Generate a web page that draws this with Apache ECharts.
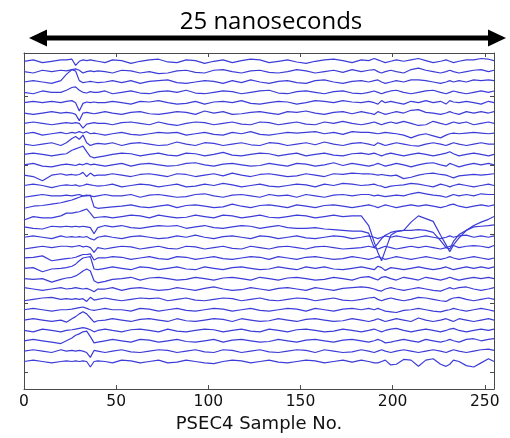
<!DOCTYPE html>
<html><head><meta charset="utf-8">
<script src="https://cdn.jsdelivr.net/npm/echarts@6/dist/echarts.min.js"></script>
<style>html,body{margin:0;padding:0;background:#fff}#chart{width:510px;height:438px}</style>
</head><body><div id="chart"></div>
<script>
// PSEC4 sample numbers at which each trace value was read
const sampleNo = [0,5,10,15,20, 23,26,28,30,32,34,36,38,40, 44,48,
  53,58,63,68,73,78,83,88,93,98, 103,108,113,118,123,128,133,138,143,148, 153,158,163,168,173,178,183,
  187,190,192,194,196,199,202,206,210,214, 218,222,226,229,231,233,236,240,244,248, 252,255];

// Trace values (relative to each trace's own baseline), top trace first
const trace01 = [0,2,-2,0,2, 2,3,-6,0,2,1,2,1,0, -2,2, 1,-3,0,2,3,-1,-2,2,1,-3, 0,2,-2,1,3,2,-2,0,2,-1, -3,0,2,3,1,-2,2, 1,4,2,0,-2,0,2,0,2,4, 1,-2,0,2,0,-2,0,2,2,4, 3,1];
const trace02 = [0,-2,2,0,2, 1,3,4,2,-2,0,1,0,1, 0,-2, 2,1,-2,0,-3,-2,1,2,-1,-2, 2,3,0,-2,1,2,-1,-2,0,3, 1,-2,0,2,-1,3,0, 2,3,0,-2,0,2,0,-2,3,5, 2,0,-2,0,2,0,-2,0,2,3, 0,2];
const trace03 = [0,2,0,-2,2, 11,18,16,2,-1,0,1,0,-1, 0,2, -1,2,-2,1,2,3,-1,-2,0,2, 1,-2,2,-1,3,0,-2,1,2,-1, -2,2,3,0,-2,1,2, 0,2,3,0,-2,0,2,0,3,3, 2,0,-2,0,2,0,2,0,3,2, 3,2];
const trace04 = [0,-2,2,0,0, 3,7,8,3,0,-1,1,0,0, 2,-2, 0,2,-1,-2,1,2,0,3,-1,-2, 0,2,1,-2,0,2,3,-1,-2,1, 2,0,-2,1,2,-1,-2, 0,2,0,-2,0,2,3,0,-2,0, 2,3,0,-2,0,2,0,-2,0,2, 0,2];
const trace05 = [0,2,0,2,0, 2,3,0,-12,-1,1,0,1,0, 0,2, 0,-2,2,1,3,0,-2,-1,2,-2, 1,2,0,3,-1,-2,0,2,1,-2, 0,3,2,0,3,1,0, 2,0,-2,3,0,2,0,-2,2,0, 3,0,2,-2,3,1,0,2,0,-2, 2,0];
const trace06 = [0,-2,0,2,0, 1,0,-2,-11,0,1,0,-1,0, 2,0, -2,1,2,-1,-2,0,2,1,-2,3, 0,2,-2,-1,1,2,0,-2,2,1, 3,0,-2,1,2,-1,2, 0,-2,2,0,-2,0,2,0,4,5, 1,0,-2,0,2,0,-2,2,0,2, 0,2];
const trace07 = [0,2,0,-2,0, 1,0,1,0,-7,-1,0,1,0, 0,-2, 1,2,0,-2,2,-1,-3,0,2,1, -2,0,2,-1,-2,2,1,-2,0,2, -1,-2,2,0,3,0,-2, 0,2,0,-2,0,2,0,3,0,-3, -2,3,0,-2,0,2,0,2,-2,0, 2,0];
const trace08 = [0,2,-2,0,2, 0,2,1,3,1,3,0,1,0, -2,0, 2,-1,-2,0,2,1,2,-2,0,2, -1,-2,2,0,3,-1,-2,0,2,1, 2,3,0,2,-1,3,2, 2,1,0,1,2,1,0,-2,-6,-2, 0,-3,-6,-2,0,1,0,1,2,1, 0,1];
const trace09 = [0,-2,0,2,-2, 2,8,11,7,13,2,-2,0,1, 0,2, -2,1,2,0,-2,-1,3,0,-2,2, 1,-2,0,2,-1,-2,2,1,-2,0, 2,-1,3,0,-2,1,2, 0,-2,2,0,-2,0,2,0,-2,-3, 0,2,0,-2,0,2,0,-2,0,2, 0,0];
const trace10 = [0,2,0,-2,0, 1,6,8,10,12,4,-3,-5,-4, -2,0, 2,1,-2,0,2,-1,-2,2,1,-2, 0,3,-1,-2,0,2,1,-2,0,2, -2,0,2,-1,-2,1,2, 0,2,0,-2,0,2,0,-2,0,2, 0,-2,0,2,4,1,-2,0,2,0, -2,0];
const trace11 = [0,2,-2,-3,0, 1,0,-1,1,0,2,0,1,0, -2,0, 2,-2,1,2,0,-2,-1,2,3,0, -2,1,2,0,-2,-1,2,0,-2,2, 1,-2,0,3,-1,2,0, -2,0,2,0,-2,0,2,0,-3,0, 2,3,0,-2,2,0,-3,0,2,0, 2,0];
const trace12 = [0,-2,-8,0,2, 0,1,0,1,4,-2,3,-1,0, 0,2, 0,-2,1,2,0,-2,2,1,-2,0, 2,-1,3,0,-2,1,2,0,-2,-1, 2,0,-2,2,1,3,2, 2,1,0,1,0,-1,0,-5,-3,0, 2,3,1,0,-2,-4,-1,0,1,0, 1,2];
const trace13 = [0,2,0,-3,0, 1,0,1,-1,0,2,1,0,-1, 0,2, -2,0,2,1,-2,0,2,-2,-1,2, 0,3,1,-2,0,2,-1,-2,0,2, 1,-2,2,0,3,2,0, 1,2,0,-1,-3,-1,0,1,3,2, 0,-2,2,0,-2,0,2,0,-2,0, 2,0];
const trace14 = [-2,0,2,0,0, 1,0,1,2,0,1,0,-1,0, 2,0, 0,2,-2,1,2,0,-2,-1,2,3, 0,-2,1,2,0,-2,2,0,1,-2, 2,0,-2,1,2,0,2, 2,0,1,0,-1,0,1,0,3,5, 3,1,0,-2,0,2,0,2,0,3, 2,2];
const trace15 = [-3,0,1,3,5, 7,9,11,13,15,15,16,-1,-3, -2,-1, 0,2,-1,-2,0,2,-2,1,2,0, -2,-1,3,0,-2,1,2,0,-2,2, 0,-2,1,2,0,-2,0, 2,0,-2,0,2,0,-2,0,2,0, 2,0,-2,0,2,3,0,-2,0,2, 0,2];
const trace16 = [-5,0,-2,-2,1, 5,5,6,7,9,11,5,-2,-1, 0,-2, 0,2,1,-2,2,0,-2,-1,2,0, -2,2,1,-2,0,2,-1,-2,0,2, 1,-2,0,2,0,1,1, -13,-37,-52,-64,-49,-27,-22,-20,-8,1, -3,-7,-27,-41,-51,-41,-31,-20,-13,-8, -4,0];
const trace17 = [0,-2,-3,1,0, 1,0,1,0,1,0,-1,-10,-1, 2,0, 2,-1,-2,0,2,1,2,-2,0,2, -1,-2,0,2,1,-2,0,2,-1,-2, -2,-1,-3,-4,-5,-6,-6, -9,-30,-24,-17,-12,-8,-6,-5,-5,-4, -5,-8,-20,-30,-32,-21,-11,-5,0,1, 2,3];
const trace18 = [0,2,0,-2,2, 0,1,0,1,0,1,-2,-4,0, 2,0, -2,1,2,0,-2,-1,2,0,3,0, -2,1,2,0,-2,2,1,-2,0,2, -1,-2,0,2,1,-2,0, 2,0,-2,0,2,0,2,0,-2,0, 2,0,-2,0,2,0,2,3,0,2, 0,2];
const trace19 = [-2,0,2,0,2, 2,1,2,3,1,2,0,-7,0, -2,0, 2,1,-2,0,2,-1,-2,2,1,-2, 0,2,-1,-2,2,0,-2,1,2,0, -2,1,2,0,-2,-1,0, 2,0,-2,0,2,0,-2,0,2,0, 2,0,-2,0,2,3,0,2,3,2, 0,3];
const trace20 = [0,1,3,-4,-2, -1,0,1,3,5,5,6,-3,0, 0,2, 1,-2,0,2,-1,-2,2,1,-2,0, 2,-1,-2,0,2,1,-2,2,0,-2, 1,2,0,-2,-1,2,0, -2,0,2,0,-2,0,2,0,-2,0, 2,0,-2,0,2,0,-2,0,2,0, -2,0];
const trace21 = [0,1,-5,-1,0, 1,3,6,11,15,16,17,-1,-2, 0,2, 0,-2,2,1,-2,0,2,-1,-2,2, 0,-2,1,2,0,-2,-1,2,0,-2, 2,0,2,-1,-2,0,2, 0,-2,3,1,-3,1,0,-2,0,2, 0,-2,0,2,0,-2,0,2,0,2, 0,2];
const trace22 = [0,-1,0,-5,-1, 1,2,4,7,11,14,11,-3,-6, -4,-1, 0,2,-2,1,2,0,-2,-1,2,0, -2,1,2,0,-2,2,0,-2,1,2, 0,-2,-1,2,0,-2,2, 3,0,-2,2,3,0,-2,2,0,-2, 2,0,-2,0,2,0,-2,0,2,0, 2,0];
const trace23 = [2,0,-2,0,2, 0,1,2,1,0,1,-1,-4,0, 0,2, -2,1,2,0,-2,-1,2,0,-2,1, 3,0,-2,-1,2,0,-2,1,2,0, -2,2,0,-2,1,2,3, 2,0,-2,-3,0,2,0,-2,0,2, 0,-2,-3,0,2,0,2,3,0,-2, 0,2];
const trace24 = [-2,0,2,3,0, 1,0,1,0,1,-3,3,-1,0, 2,0, -2,0,2,1,2,-2,0,2,-1,-2, 0,2,1,-2,0,2,-1,-2,0,2, 1,-2,0,2,-1,-2,0, 2,3,0,-2,0,2,0,-2,0,3, 2,0,-2,-3,0,2,3,0,-2,0, 2,0];
const trace25 = [0,2,0,-2,0, 0,1,2,3,4,2,0,-1,0, 2,0, 0,-2,2,1,-2,0,2,-1,-2,0, 2,1,-2,0,2,-1,-2,0,2,1, -2,2,0,-2,1,2,0, 2,0,2,0,-2,-3,-4,-1,0,2, 0,-2,-3,-1,0,2,0,-2,0,2, 0,-2];
const trace26 = [0,2,0,-2,0, -3,2,5,9,12,9,3,-3,-1, 0,2, 0,-2,1,2,0,-2,2,-1,-2,0, 2,1,-2,2,0,-2,-1,2,0,-2, 1,2,0,-2,-1,2,0, -2,0,2,0,-2,0,2,0,-2,3, 0,-2,0,2,0,-2,2,0,-2,0, 2,0];
const trace27 = [0,-2,2,0,-2, 0,1,2,3,4,3,1,-2,0, 2,0, -2,1,2,0,-2,2,-1,-2,0,2, 1,-2,0,2,-1,-2,2,0,-2,1, 2,0,-2,-1,2,0,-2, 0,2,0,-2,0,2,3,0,-2,0, 2,0,-2,0,2,3,0,-2,0,2, 0,2];
const trace28 = [0,2,0,-2,-4, 0,4,8,10,13,14,6,-3,-2, 0,2, 0,-2,2,1,-2,0,2,-1,-2,0, 2,-2,1,2,0,-2,-1,2,0,-2, 1,2,0,-2,1,2,0, -2,0,2,0,-3,-2,0,2,0,-2, 2,0,-2,0,2,0,-2,2,3,0, 2,3];
const trace29 = [0,2,0,-2,2, 0,1,0,1,0,-2,-9,1,0, -2,0, 2,-1,-2,0,2,1,-2,0,2,-1, -2,2,1,-2,0,2,-1,-2,0,2, 1,-2,2,0,-2,-1,2, 0,-2,0,2,0,-2,0,2,0,-2, 0,2,0,-2,0,2,0,-2,0,2, 3,1];
const trace30 = [0,2,0,-2,0, 1,0,1,0,1,0,-8,0,1, 0,-2, 2,1,-2,0,2,-2,-1,2,0,-2, -3,0,2,1,-2,0,2,-1,-2,0, 2,1,-2,0,2,-1,2, 0,-2,-2,0,2,-5,-4,3,2,-7, 2,4,-4,-7,-4,2,0,-6,-8,-2, 4,0];

const traces = [trace01,trace02,trace03,trace04,trace05,trace06,trace07,trace08,trace09,trace10,
  trace11,trace12,trace13,trace14,trace15,trace16,trace17,trace18,trace19,trace20,
  trace21,trace22,trace23,trace24,trace25,trace26,trace27,trace28,trace29,trace30];

// Offsets between stacked traces (same units as the values)
const traceSpacing = 15;
const bottomBaseline = 16;

const xTickValues = [0, 50, 100, 150, 200, 250];
const yTickValues = [0, 100, 200, 300, 400];
const titleText = '25 nanoseconds';
const xAxisTitle = 'PSEC4 Sample No.';

traces.forEach((t, i) => {
  if (t.length !== sampleNo.length) throw new Error('trace ' + (i + 1) + ' has ' + t.length + ' values, expected ' + sampleNo.length);
});

const frameColor = '#4a4a4a';
const series = traces.map((t, i) => {
  const base = bottomBaseline + traceSpacing * (traces.length - 1 - i);
  return {
    type: 'line',
    data: sampleNo.map((s, j) => [s, base + t[j]]),
    showSymbol: false,
    symbol: 'none',
    silent: true,
    lineStyle: { color: '#3c3cd8', width: 1.2 },
    animation: false
  };
});

function xAxisDef(pos, withLabels) {
  return {
    type: 'value', min: 0, max: 255, position: pos,
    axisLine: { show: true, onZero: false, lineStyle: { color: frameColor, width: 1 } },
    axisTick: { show: true, inside: true, length: 4, customValues: xTickValues, lineStyle: { color: frameColor } },
    axisLabel: withLabels ? { show: true, customValues: xTickValues, color: '#111', fontFamily: 'DejaVu Sans', fontSize: 15.5, margin: 5 } : { show: false },
    splitLine: { show: false },
    name: withLabels ? xAxisTitle : '',
    nameLocation: 'middle', nameGap: 25,
    nameTextStyle: { fontFamily: 'DejaVu Sans', fontSize: 18, color: '#111' }
  };
}
function yAxisDef(pos) {
  return {
    type: 'value', min: -24, max: 463, position: pos,
    axisLine: { show: true, onZero: false, lineStyle: { color: frameColor, width: 1 } },
    axisTick: { show: true, inside: true, length: 4, customValues: yTickValues, lineStyle: { color: frameColor } },
    axisLabel: { show: false },
    splitLine: { show: false }
  };
}

const chart = echarts.init(document.getElementById('chart'), null, { renderer: 'canvas' });
chart.setOption({
  animation: false,
  backgroundColor: '#fff',
  grid: { left: 24, right: 16, top: 53, bottom: 39, containLabel: false },
  xAxis: [xAxisDef('bottom', true), xAxisDef('top', false)],
  yAxis: [yAxisDef('left'), yAxisDef('right')],
  series: series,
  graphic: [
    { type: 'text', x: 271, y: 22, style: { text: titleText, fill: '#000', fontSize: 24, fontFamily: '"Open Sans"', align: 'center', verticalAlign: 'middle' } },
    { type: 'line', shape: { x1: 42, y1: 38, x2: 493, y2: 38 }, style: { stroke: '#000', lineWidth: 5 } },
    { type: 'polygon', shape: { points: [[29, 38], [47, 29.5], [47, 46.5]] }, style: { fill: '#000' } },
    { type: 'polygon', shape: { points: [[506, 38], [488, 29.5], [488, 46.5]] }, style: { fill: '#000' } }
  ]
});
</script>
</body></html>
